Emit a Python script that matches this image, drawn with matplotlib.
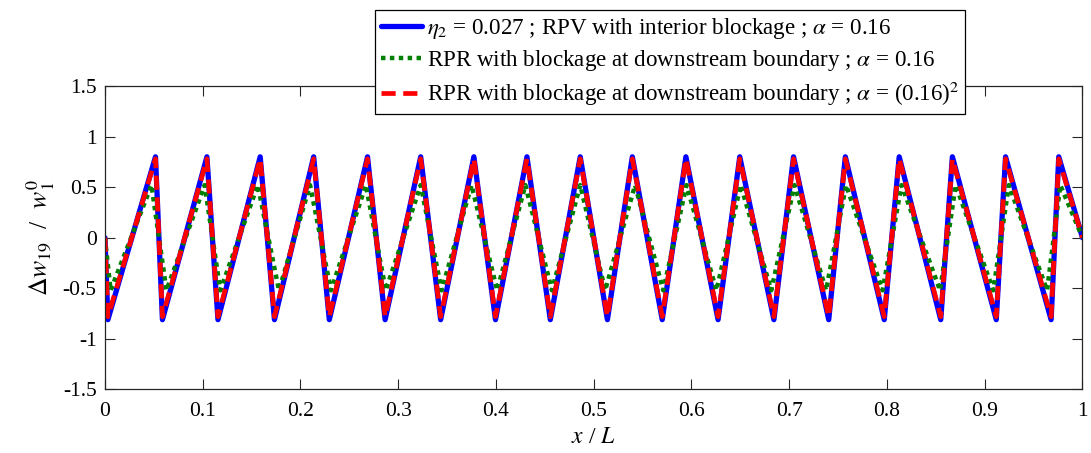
import matplotlib
matplotlib.use('Agg')
import matplotlib.pyplot as plt
from matplotlib.ticker import FormatStrFormatter

plt.rcParams['font.family'] = ['Liberation Serif', 'DejaVu Serif']
plt.rcParams['mathtext.fontset'] = 'stix'
plt.rcParams['axes.unicode_minus'] = False

# vertices (start, trough, peak, trough, ..., peak, end)
x_blue = [0.0, 0.003, 0.0517, 0.0588, 0.1043, 0.1156, 0.1588, 0.1734, 0.2135,
          0.2295, 0.2686, 0.2866, 0.3230, 0.3434, 0.3774, 0.3995, 0.4317,
          0.4556, 0.4862, 0.5140, 0.5395, 0.5701, 0.5943, 0.6272, 0.6494,
          0.6843, 0.7044, 0.7404, 0.7574, 0.7972, 0.8125, 0.8550, 0.8669,
          0.9118, 0.9213, 0.9679, 0.9757, 1.0]
y_blue = [0.0] + [-0.81, 0.80] * 18 + [0.0]

x_green = [0.0, 0.0058, 0.0476, 0.0629, 0.1020, 0.1180, 0.1563, 0.1780, 0.2098,
           0.2312, 0.2669, 0.2873, 0.3230, 0.3444, 0.3750, 0.4012, 0.4301,
           0.4572, 0.4862, 0.5117, 0.5423, 0.5711, 0.5949, 0.6255, 0.6504,
           0.6816, 0.7054, 0.7377, 0.7581, 0.7955, 0.8149, 0.8543, 0.8703,
           0.9087, 0.9247, 0.9638, 0.9773, 1.0]
y_green = [0.0] + [-0.52, 0.52] * 18 + [0.0]

x_red = [0.0, 0.003, 0.0517, 0.0588, 0.1043, 0.1156, 0.1588, 0.1734, 0.2135,
         0.2295, 0.2686, 0.2866, 0.3230, 0.3434, 0.3774, 0.3995, 0.4317,
         0.4556, 0.4862, 0.5140, 0.5395, 0.5701, 0.5943, 0.6272, 0.6494,
         0.6843, 0.7044, 0.7404, 0.7574, 0.7972, 0.8125, 0.8550, 0.8669,
         0.9118, 0.9213, 0.9679, 0.9757, 1.0]
y_red = [0.0] + [-0.78, 0.78] * 18 + [0.0]

lbl_blue = r'$\eta_2$ = 0.027 ; RPV with interior blockage ; $\alpha$ = 0.16'
lbl_green = r'RPR with blockage at downstream boundary ; $\alpha$ = 0.16'
lbl_red = r'RPR with blockage at downstream boundary ; $\alpha$ = (0.16)$^2$'

fig = plt.figure(figsize=(10.91, 4.53), dpi=100)
ax = fig.add_axes([0.0962, 0.1402, 0.8960, 0.6700])

ax.plot(x_blue, y_blue, color='#0000ff', lw=3.8, solid_joinstyle='round',
        solid_capstyle='round', label=lbl_blue)
ax.plot(x_green, y_green, color='#007f00', lw=3.2, linestyle=(0, (1, 1)),
        dash_capstyle='butt', dash_joinstyle='round', label=lbl_green)
ax.plot(x_red, y_red, color='#ff0000', lw=3.4, linestyle=(0, (3, 1.6)),
        dash_capstyle='butt', dash_joinstyle='round', label=lbl_red)

ax.set_xlim(0, 1)
ax.set_ylim(-1.5, 1.5)
ax.set_xticks([0, 0.1, 0.2, 0.3, 0.4, 0.5, 0.6, 0.7, 0.8, 0.9, 1])
ax.set_yticks([-1.5, -1, -0.5, 0, 0.5, 1, 1.5])
ax.xaxis.set_major_formatter(FormatStrFormatter('%g'))
ax.yaxis.set_major_formatter(FormatStrFormatter('%g'))
ax.tick_params(direction='in', length=7, width=0.8, top=True, right=True,
               labelsize=15.5, colors='#262626', labelcolor='black')
ax.tick_params(axis='x', pad=9)
ax.tick_params(axis='y', pad=6)
for s in ax.spines.values():
    s.set_color('#262626')
    s.set_linewidth(0.9)

ax.set_xlabel(r'$x$ / $L$', fontsize=17, labelpad=4)
ax.set_ylabel(r'$\Delta w_{19}$  /  $w_1^0$', fontsize=18.5, labelpad=4)

leg = fig.legend(loc='upper left', bbox_to_anchor=(375 / 1091, 1 - 10 / 453),
                 fontsize=16.6, frameon=True, fancybox=False, framealpha=1,
                 edgecolor='black', handlelength=1.8, handletextpad=0.2,
                 labelspacing=0.3, borderpad=0.25, borderaxespad=0)
leg.get_frame().set_linewidth(0.9)

fig.savefig('out.png', dpi=100)
